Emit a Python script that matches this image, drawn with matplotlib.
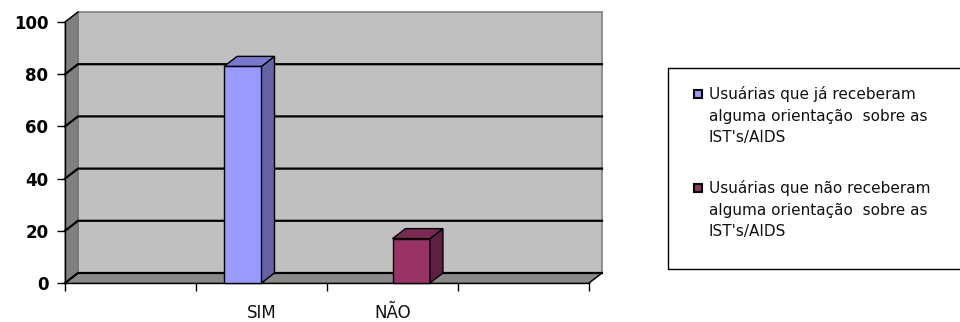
import numpy as np
import matplotlib.pyplot as plt
from matplotlib.patches import Polygon, Rectangle

plt.rcParams['font.family'] = ['DejaVu Sans']

# dados do grafico
categorias = ['', 'SIM', 'NÃO', '']
ja_receberam = [np.nan, 83, np.nan, np.nan]
nao_receberam = [np.nan, np.nan, 17, np.nan]
rotulos = ["Usuárias que já receberam\nalguma orientação  sobre as\nIST's/AIDS",
           "Usuárias que não receberam\nalguma orientação  sobre as\nIST's/AIDS"]
yticks = [0, 20, 40, 60, 80, 100]

cores = [('#9999FF', '#6363A6', '#7878CC'),
         ('#993366', '#5E2040', '#7A2952')]

fig = plt.figure(figsize=(9.6, 3.22), dpi=100)
ax = fig.add_axes([65 / 960, 39 / 322, 524 / 960, 261 / 322])
ax.set_xlim(-0.5, len(categorias) - 0.5)
ax.set_ylim(0, 100)

# profundidade em unidades de dados (13 px, 10 px)
dx = 13 / 131
dy = 10 / 2.61
x0, x1 = -0.5, len(categorias) - 0.5

def poly(pts, fc, ec='black', lw=1.0, z=1):
    p = Polygon(pts, closed=True, facecolor=fc, edgecolor=ec, linewidth=lw,
                clip_on=False, zorder=z)
    ax.add_patch(p)

# parede do fundo, parede lateral e piso
poly([(x0 + dx, dy), (x1 + dx, dy), (x1 + dx, 100 + dy), (x0 + dx, 100 + dy)],
     '#C0C0C0', ec='#808080', lw=1.2, z=0.5)
poly([(x0, 0), (x0 + dx, dy), (x0 + dx, 100 + dy), (x0, 100)],
     '#808080', ec='#707070', lw=0.8, z=0.6)
poly([(x0, 0), (x1, 0), (x1 + dx, dy), (x0 + dx, dy)],
     '#8A8A8A', ec='#505050', lw=0.8, z=0.6)

# linhas de grade
for v in yticks[:-1]:
    ax.plot([x0, x0 + dx, x1 + dx], [v, v + dy, v + dy], color='black',
            lw=1.6, clip_on=False, zorder=0.8)
ax.plot([x0, x0 + dx], [100, 100 + dy], color='black', lw=1.0,
        clip_on=False, zorder=0.8)
ax.plot([x1, x1 + dx], [0, dy], color='black', lw=1.0, clip_on=False,
        zorder=0.8)

# barras 3D
w = 1 / 3.5
x = np.arange(len(categorias))
for s, (serie, (cf, cs, ct)) in enumerate(zip([ja_receberam, nao_receberam], cores)):
    for xi, v in zip(x, serie):
        if np.isnan(v):
            continue
        l = xi - w + s * w
        r = l + w
        poly([(l, 0), (r, 0), (r, v), (l, v)], cf, z=3)
        poly([(r, 0), (r + dx, dy), (r + dx, v + dy), (r, v)], cs, z=3)
        poly([(l, v), (r, v), (r + dx, v + dy), (l + dx, v + dy)], ct, z=3)

# eixos
for sp in ['top', 'right']:
    ax.spines[sp].set_visible(False)
ax.spines['left'].set_linewidth(1.0)
ax.spines['bottom'].set_linewidth(1.0)
ax.spines['left'].set_zorder(2)
ax.spines['bottom'].set_zorder(2)
ax.patch.set_visible(False)

ax.set_yticks(yticks)
ax.set_yticklabels([str(t) for t in yticks], fontsize=12, fontweight='bold')
ax.tick_params(axis='y', length=6, width=1, pad=6)
ax.set_xticks(x)
ax.set_xticklabels(categorias, fontsize=12, color='#111111')
ax.set_xticks(np.arange(len(categorias) + 1) - 0.5, minor=True)
ax.tick_params(axis='x', which='major', length=0, pad=15)
ax.tick_params(axis='x', which='minor', length=6, width=1)

# legenda
fig.patches.append(Rectangle((668 / 960, 1 - 269 / 322), 300 / 960, 201 / 322,
                             transform=fig.transFigure, facecolor='white',
                             edgecolor='black', linewidth=1.0))
ys = [89, 183]
for (cf, _, _), lab, yy in zip(cores, rotulos, ys):
    fig.patches.append(Rectangle((694 / 960, 1 - (yy + 9) / 322), 8 / 960, 8 / 322,
                                 transform=fig.transFigure, facecolor=cf,
                                 edgecolor='black', linewidth=1.5))
    fig.text(709 / 960, 1 - (yy - 3) / 322, lab, fontsize=11,
             color='#111111', va='top', ha='left', linespacing=1.55)

fig.savefig('out.png', dpi=100)
